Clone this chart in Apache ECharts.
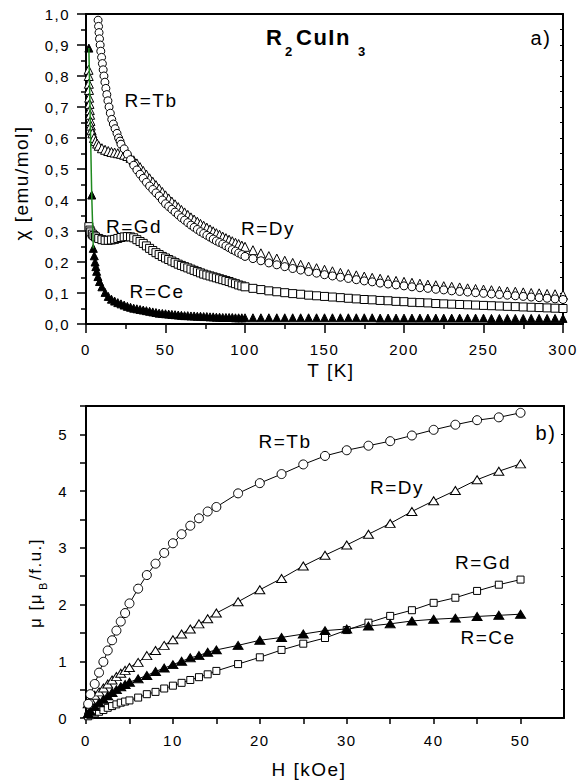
<!DOCTYPE html>
<html><head><meta charset="utf-8">
<script src="https://cdn.jsdelivr.net/npm/echarts@6/dist/echarts.min.js"></script>
<style>html,body{margin:0;padding:0;background:#fff}#c{width:579px;height:780px}#c text{letter-spacing:1.5px}</style>
</head><body><div id="c"></div><script>
// ---------- panel a) susceptibility vs temperature ----------
const tHigh = [105,110,115,120,125,130,135,140,145,150,155,160,165,170,175,180,185,190,195,200,205,210,215,220,225,230,235,240,245,250,255,260,265,270,275,280,285,290,295,300];

const tbTLow = [7.6,7.9,8.2,8.5,8.9,9.3,9.8,10.3,10.8,11.3,11.9,12.5,13.1,13.8,14.5,15.3,16.2,17.2,18.3,19.5,20.5,21.4,22,24,26,28,30,32,34,36,38,40,42,44,46,48,50,52,54,56,58,60,62,64,66,68,70,72,74,76,78,80,82,84,86,88,90,92,94,96,98,100];
const tbChiLow = [0.98,0.96,0.94,0.92,0.9,0.88,0.86,0.84,0.82,0.8,0.78,0.76,0.74,0.72,0.70,0.68,0.66,0.645,0.63,0.615,0.60,0.59,0.58,0.565,0.548,0.53,0.512,0.497,0.483,0.47,0.457,0.445,0.434,0.423,0.413,0.4,0.388,0.379,0.37,0.361,0.352,0.343,0.335,0.327,0.319,0.312,0.305,0.298,0.292,0.286,0.28,0.274,0.268,0.263,0.258,0.252,0.246,0.24,0.235,0.229,0.224,0.218];
const tbChiHigh = [0.211,0.204,0.197,0.191,0.185,0.179,0.174,0.169,0.164,0.159,0.155,0.151,0.147,0.143,0.139,0.136,0.132,0.129,0.126,0.123,0.12,0.117,0.115,0.112,0.11,0.107,0.105,0.103,0.101,0.099,0.097,0.095,0.093,0.091,0.089,0.087,0.085,0.083,0.081,0.079];

const dyTLow = [1.6,1.7,1.8,1.9,2.0,2.2,2.4,2.6,2.8,3.0,3.5,4,5,6,7,8,10,12,14,16,18,20,22,24,26,28,30,32,34,36,38,40,42,44,46,48,50,52,54,56,58,60,62,64,66,68,70,72,74,76,78,80,82,84,86,88,90,92,94,96,98,100];
const dyChiLow = [0.82,0.80,0.775,0.755,0.73,0.71,0.69,0.675,0.655,0.64,0.625,0.615,0.60,0.59,0.582,0.575,0.567,0.562,0.558,0.555,0.553,0.551,0.549,0.546,0.542,0.536,0.528,0.518,0.506,0.494,0.482,0.47,0.459,0.448,0.437,0.426,0.415,0.405,0.395,0.386,0.377,0.368,0.36,0.352,0.344,0.337,0.33,0.323,0.317,0.311,0.305,0.299,0.293,0.288,0.282,0.277,0.272,0.267,0.262,0.258,0.253,0.249];
const dyChiHigh = [0.238,0.228,0.219,0.211,0.204,0.197,0.191,0.185,0.18,0.175,0.17,0.165,0.161,0.157,0.153,0.149,0.146,0.142,0.139,0.136,0.133,0.13,0.127,0.125,0.122,0.12,0.118,0.115,0.113,0.111,0.109,0.107,0.105,0.104,0.102,0.1,0.099,0.097,0.096,0.094];

const gdTLow = [1.8,2.5,3,4,5,6,8,10,12,14,16,18,20,22,24,26,28,30,32,34,36,38,40,42,44,46,48,50,52,54,56,58,60,62,64,66,68,70,72,74,76,78,80,82,84,86,88,90,92,94,96,98,100];
const gdChiLow = [0.314,0.303,0.297,0.29,0.285,0.281,0.276,0.272,0.27,0.27,0.271,0.273,0.276,0.279,0.281,0.282,0.281,0.278,0.272,0.266,0.26,0.252,0.244,0.237,0.23,0.224,0.218,0.213,0.208,0.203,0.198,0.193,0.189,0.185,0.181,0.177,0.173,0.169,0.165,0.161,0.158,0.155,0.152,0.149,0.146,0.143,0.14,0.137,0.133,0.13,0.126,0.123,0.12];
const gdChiHigh = [0.115,0.111,0.107,0.104,0.101,0.098,0.096,0.093,0.091,0.089,0.087,0.085,0.083,0.081,0.079,0.078,0.076,0.075,0.073,0.072,0.07,0.069,0.068,0.066,0.065,0.064,0.063,0.062,0.061,0.06,0.059,0.058,0.057,0.056,0.055,0.054,0.053,0.052,0.051,0.05];

const ceTLow = [1.8,3.6,4.6,5.2,5.7,6.2,6.7,7.5,8.5,10,12,14,16,18,20,22,24,26,28,30,32,34,36,38,40,42,44,46,48,50,52,54,56,58,60,62,64,66,68,70,72,74,76,78,80,82,84,86,88,90,92,94,96,98,100];
const ceChiLow = [0.89,0.416,0.244,0.22,0.2,0.185,0.17,0.153,0.137,0.12,0.102,0.089,0.08,0.074,0.069,0.065,0.061,0.057,0.054,0.051,0.049,0.047,0.045,0.043,0.041,0.039,0.037,0.035,0.034,0.033,0.032,0.031,0.03,0.029,0.028,0.027,0.027,0.026,0.026,0.025,0.025,0.024,0.024,0.023,0.023,0.022,0.022,0.021,0.021,0.021,0.021,0.02,0.02,0.02,0.02];
const ceChiHigh = [0.02,0.02,0.02,0.02,0.02,0.02,0.02,0.02,0.02,0.02,0.02,0.02,0.02,0.02,0.02,0.02,0.019,0.019,0.019,0.019,0.019,0.019,0.019,0.019,0.019,0.019,0.019,0.019,0.019,0.019,0.018,0.018,0.018,0.018,0.018,0.018,0.018,0.018,0.018,0.018];

const chiTicks = ['0,0','0,1','0,2','0,3','0,4','0,5','0,6','0,7','0,8','0,9','1,0'];

// ---------- panel b) magnetization vs field ----------
const hField = [0.25,0.5,1,1.5,2,2.5,3,3.5,4,4.5,5,6,7,8,9,10,11,12,13,14,15,17.5,20,22.5,25,27.5,30,32.5,35,37.5,40,42.5,45,47.5,50];
const muTb = [0.25,0.42,0.60,0.80,0.99,1.19,1.37,1.54,1.70,1.85,2.02,2.28,2.52,2.72,2.91,3.08,3.24,3.39,3.52,3.64,3.72,3.96,4.14,4.30,4.47,4.62,4.72,4.80,4.88,4.98,5.08,5.17,5.25,5.30,5.38];
const muDy = [0.25,0.32,0.40,0.46,0.53,0.60,0.67,0.73,0.79,0.84,0.89,0.98,1.10,1.19,1.28,1.38,1.48,1.57,1.66,1.75,1.85,2.05,2.26,2.46,2.68,2.87,3.05,3.24,3.43,3.64,3.83,4.01,4.20,4.35,4.48];
const muCe = [0.08,0.12,0.20,0.27,0.33,0.39,0.45,0.50,0.55,0.59,0.63,0.69,0.75,0.82,0.88,0.94,1.00,1.06,1.10,1.16,1.20,1.28,1.37,1.42,1.48,1.54,1.57,1.62,1.66,1.71,1.74,1.76,1.79,1.81,1.83];
const muGd = [0.03,0.05,0.08,0.11,0.14,0.18,0.21,0.24,0.27,0.29,0.31,0.36,0.42,0.46,0.52,0.57,0.62,0.67,0.72,0.77,0.83,0.95,1.07,1.20,1.31,1.41,1.55,1.68,1.80,1.90,2.03,2.12,2.24,2.35,2.44];

// ---------- helpers ----------
const FONT = 'Liberation Sans, Arial, Helvetica, sans-serif';
const pairs = (xs, ys) => xs.map((x, i) => [x, ys[i]]);
const join = (a, b) => a.concat(b);
const BLACK = '#000';

function scatter(name, xs, ys, symbol, size, fill) {
  return {
    name, type: 'scatter', xAxisIndex: 0, yAxisIndex: 0,
    data: pairs(xs, ys), symbol, symbolSize: size,
    itemStyle: { color: fill, borderColor: BLACK, borderWidth: 1, opacity: 1 },
    emphasis: { disabled: true }, silent: true
  };
}
function lineSeries(name, ys, symbol, size, fill) {
  return {
    name, type: 'line', xAxisIndex: 2, yAxisIndex: 2,
    data: pairs(hField, ys), symbol, symbolSize: size, showSymbol: true,
    lineStyle: { color: BLACK, width: 1 },
    itemStyle: { color: fill, borderColor: BLACK, borderWidth: 1 },
    emphasis: { disabled: true }, silent: true
  };
}
const tickLabel = { color: BLACK, fontSize: 15, fontFamily: FONT };

function txt(text, x, y, size, opts) {
  return Object.assign({
    type: 'text', x, y, silent: true,
    style: { text, fontSize: size, fontFamily: FONT, fill: BLACK, align: 'center', verticalAlign: 'middle' }
  }, opts || {});
}

const option = {
  animation: false,
  backgroundColor: '#fff',
  grid: [
    { left: 86, top: 14, width: 477, height: 310 },
    { left: 86, top: 406, width: 478, height: 312 }
  ],
  xAxis: [
    { gridIndex: 0, type: 'value', min: 0, max: 300, interval: 50, position: 'bottom',
      axisLine: { onZero: false, lineStyle: { color: BLACK, width: 2 } },
      axisTick: { length: 9, lineStyle: { color: BLACK, width: 1.5 } },
      minorTick: { show: true, splitNumber: 2, length: 5, lineStyle: { color: BLACK, width: 1.5 } },
      axisLabel: Object.assign({ margin: 18 }, tickLabel),
      splitLine: { show: false } },
    { gridIndex: 0, type: 'value', min: 0, max: 300, position: 'top',
      axisLine: { onZero: false, lineStyle: { color: BLACK, width: 2 } },
      axisTick: { show: false }, axisLabel: { show: false }, splitLine: { show: false } },
    { gridIndex: 1, type: 'value', min: 0, max: 55, interval: 5, position: 'bottom',
      axisLine: { onZero: false, lineStyle: { color: BLACK, width: 2 } },
      axisTick: { length: 6, lineStyle: { color: BLACK, width: 1.5 } },
      axisLabel: Object.assign({ margin: 15, showMaxLabel: false,
        formatter: v => (Math.round(v) % 10 === 0 ? String(Math.round(v)) : '') }, tickLabel),
      splitLine: { show: false } },
    { gridIndex: 1, type: 'value', min: 0, max: 55, position: 'top',
      axisLine: { onZero: false, lineStyle: { color: BLACK, width: 2 } },
      axisTick: { show: false }, axisLabel: { show: false }, splitLine: { show: false } }
  ],
  yAxis: [
    { gridIndex: 0, type: 'value', min: 0, max: 1, interval: 0.1, position: 'left',
      axisLine: { show: true, onZero: false, lineStyle: { color: BLACK, width: 2 } },
      axisTick: { show: true, length: 9, lineStyle: { color: BLACK, width: 1.5 } },
      minorTick: { show: true, splitNumber: 2, length: 5, lineStyle: { color: BLACK, width: 1.5 } },
      axisLabel: Object.assign({ margin: 16, formatter: v => chiTicks[Math.round(v * 10)] }, tickLabel),
      splitLine: { show: false } },
    { gridIndex: 0, type: 'value', min: 0, max: 1, interval: 0.05, position: 'right',
      axisLine: { show: true, onZero: false, lineStyle: { color: BLACK, width: 2 } },
      axisTick: { show: true, inside: true, length: 3, lineStyle: { color: BLACK, width: 1 } },
      axisLabel: { show: false }, splitLine: { show: false } },
    { gridIndex: 1, type: 'value', min: 0, max: 5.5, interval: 0.5, position: 'left',
      axisLine: { show: true, onZero: false, lineStyle: { color: BLACK, width: 2 } },
      axisTick: { show: true, length: 6, lineStyle: { color: BLACK, width: 1.5 } },
      axisLabel: Object.assign({ margin: 18,
        formatter: v => (Math.abs(v - Math.round(v)) < 1e-6 ? String(Math.round(v)) : '') }, tickLabel),
      splitLine: { show: false } },
    { gridIndex: 1, type: 'value', min: 0, max: 5.5, interval: 0.5, position: 'right',
      axisLine: { show: true, onZero: false, lineStyle: { color: BLACK, width: 2 } },
      axisTick: { show: true, inside: true, length: 3, lineStyle: { color: BLACK, width: 1 } },
      axisLabel: { show: false }, splitLine: { show: false } }
  ],
  series: [
    scatter('Gd', join(gdTLow, tHigh), join(gdChiLow, gdChiHigh), 'rect', 8, '#fff'),
    scatter('Dy', join(dyTLow, tHigh), join(dyChiLow, dyChiHigh), 'triangle', [9, 9], '#fff'),
    scatter('Tb', join(tbTLow, tHigh), join(tbChiLow, tbChiHigh), 'circle', 8, '#fff'),
    { name: 'Ce link', type: 'line', xAxisIndex: 0, yAxisIndex: 0,
      data: pairs(ceTLow.slice(0, 3), ceChiLow.slice(0, 3)), symbol: 'none',
      lineStyle: { color: '#1f8a1f', width: 1.5 }, silent: true },
    scatter('Ce', join(ceTLow, tHigh), join(ceChiLow, ceChiHigh), 'triangle', [8, 8], BLACK),

    lineSeries('Gd', muGd, 'rect', 7, '#fff'),
    lineSeries('Ce', muCe, 'triangle', [10, 8], BLACK),
    lineSeries('Dy', muDy, 'triangle', [10, 8], '#fff'),
    lineSeries('Tb', muTb, 'circle', 9, '#fff')
  ],
  graphic: [
    // panel a)
    txt('R', 266, 37, 22, { style: { text: 'R', fontSize: 22, fontWeight: 'bold', fontFamily: FONT, fill: BLACK, align: 'left', verticalAlign: 'middle' } }),
    txt('2', 285, 51, 13, { style: { text: '2', fontSize: 13, fontWeight: 'bold', fontFamily: FONT, fill: BLACK, align: 'left', verticalAlign: 'middle' } }),
    txt('CuIn', 296, 37, 22, { style: { text: 'CuIn', fontSize: 22, fontWeight: 'bold', fontFamily: FONT, fill: BLACK, align: 'left', verticalAlign: 'middle' } }),
    txt('3', 358, 51, 13, { style: { text: '3', fontSize: 13, fontWeight: 'bold', fontFamily: FONT, fill: BLACK, align: 'left', verticalAlign: 'middle' } }),
    txt('a)', 541, 38, 20),
    txt('R=Tb', 151, 100, 19),
    txt('R=Gd', 134, 226, 19),
    txt('R=Dy', 268, 228, 19),
    txt('R=Ce', 157, 291, 19),
    txt('T [K]', 331, 370, 19),
    txt('χ [emu/mol]', 21, 183, 19, { rotation: Math.PI / 2 }),
    // panel b)
    txt('b)', 546, 433, 20),
    txt('R=Tb', 285, 441, 19),
    txt('R=Dy', 397, 487, 19),
    txt('R=Gd', 483, 562, 19),
    txt('R=Ce', 488, 637, 19),
    txt('H [kOe]', 309, 769, 19),
    txt('μ [μ', 35, 628, 17, { rotation: Math.PI / 2, style: { text: 'μ [μ', fontSize: 17, fontFamily: FONT, fill: BLACK, align: 'left', verticalAlign: 'middle' } }),
    txt('B', 43, 590, 11, { rotation: Math.PI / 2, style: { text: 'B', fontSize: 11, fontFamily: FONT, fill: BLACK, align: 'left', verticalAlign: 'middle' } }),
    txt('/f.u.]', 35, 580, 17, { rotation: Math.PI / 2, style: { text: '/f.u.]', fontSize: 17, fontFamily: FONT, fill: BLACK, align: 'left', verticalAlign: 'middle' } })
  ]
};

const chart = echarts.init(document.getElementById('c'), null, { renderer: 'svg', width: 579, height: 780 });
chart.setOption(option);
</script></body></html>
